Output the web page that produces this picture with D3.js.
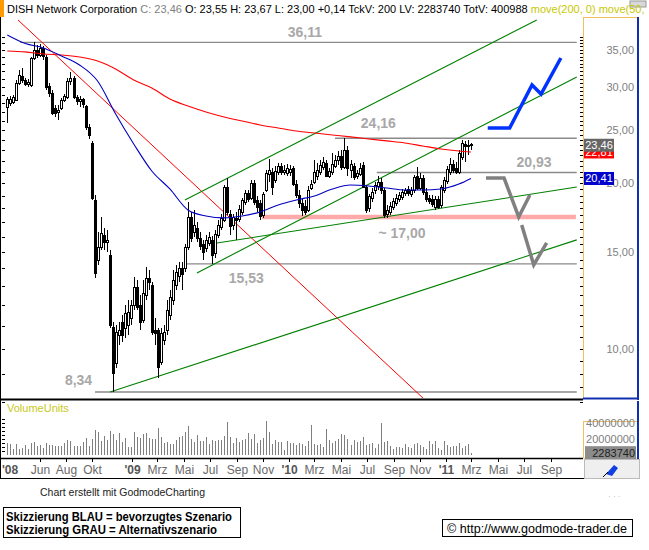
<!DOCTYPE html>
<html>
<head>
<meta charset="utf-8">
<script src="https://cdn.jsdelivr.net/npm/d3@7"></script>
<style>
body { margin: 0; background: #fff; }
svg { display: block; font-family: Arial, "Liberation Sans", sans-serif; }
</style>
</head>
<body>
<div id="chart"></div>
<script>
// weekly candles, first week starting 2008-03-17
const firstWeek = "2008-03-17"
// [open, high, low, close]
const ohlc = [
  [27.54,28.72,25.76,28.48],[28.01,28.84,27.65,28.48],[28.12,28.96,27.89,28.72],[28.36,30.84,28.24,30.45],
  [30.45,32.16,30.20,31.50],[31.37,32.43,30.45,30.84],[30.84,31.10,30.07,30.33],[30.33,30.97,29.95,30.58],
  [30.20,33.96,29.95,33.82],[33.82,36.11,33.54,34.98],[34.98,35.71,33.82,34.25],[34.25,35.86,33.96,35.27],
  [35.27,35.56,33.54,34.11],[33.96,34.25,29.58,29.95],[30.07,30.45,28.72,29.20],[29.20,29.58,26.63,26.86],
  [27.43,27.77,26.41,26.86],[26.97,27.77,26.08,27.20],[27.43,28.60,27.20,28.36],[28.36,29.08,28.12,28.84],
  [28.72,31.10,28.48,30.71],[30.71,31.89,30.20,31.10],[31.10,31.37,28.48,28.72],[28.72,28.96,27.77,28.24],
  [28.24,28.84,27.54,28.48],[28.48,28.60,27.43,27.89],[27.65,27.77,25.01,25.33],[25.33,25.65,24.09,24.49],
  [23.69,23.89,18.65,18.81],[18.65,19.05,13.45,13.74],[14.51,16.31,14.21,15.32],[15.32,17.37,15.13,16.24],
  [16.11,16.59,15.13,15.65],[15.65,16.45,15.00,15.78],[14.81,15.13,10.91,11.05],[10.96,11.19,8.34,9.04],
  [9.42,11.05,9.23,10.73],[10.59,11.19,10.16,10.82],[11.19,11.52,10.29,10.59],[10.91,12.01,10.46,11.62],
  [11.05,12.27,10.59,11.67],[11.38,12.27,11.05,12.01],[12.01,13.51,11.76,12.95],[12.95,13.34,11.76,11.91],
  [12.01,12.53,10.82,11.19],[11.28,13.34,11.14,12.63],[12.53,14.09,12.27,13.45],[13.45,13.91,12.79,13.23],
  [13.06,13.23,10.59,10.73],[10.82,11.38,10.16,10.68],[10.82,10.91,8.84,9.27],[9.46,10.91,9.34,10.68],
  [10.37,11.05,10.16,10.73],[10.82,12.27,10.59,11.76],[11.52,12.79,11.28,12.43],[12.27,13.91,12.01,13.34],
  [13.06,14.21,12.79,13.79],[13.56,14.39,13.23,14.03],[14.03,14.39,12.79,13.68],[14.03,15.52,13.79,15.32],
  [15.32,18.50,15.13,17.37],[17.37,17.74,15.65,15.91],[16.31,17.89,15.98,16.80],[16.59,17.01,15.65,15.91],
  [15.91,16.31,15.13,15.39],[15.52,15.78,14.51,15.00],[15.26,16.11,15.00,15.78],[15.58,16.31,15.39,15.98],
  [15.78,16.04,14.27,14.81],[14.94,16.45,14.63,16.18],[16.11,17.15,15.91,16.80],[16.66,17.59,16.45,17.30],
  [17.15,19.86,17.01,19.69],[19.69,20.45,17.51,17.74],[17.59,17.89,16.11,16.73],[16.80,17.59,16.45,17.37],
  [17.30,17.74,15.78,17.15],[17.22,18.27,17.01,17.96],[17.74,18.81,17.51,18.65],[18.50,19.45,18.27,19.21],
  [19.21,19.45,18.50,18.73],[18.81,20.28,18.65,20.03],[20.03,20.28,18.27,18.50],[18.65,18.97,17.74,18.12],
  [18.42,18.65,17.15,17.44],[17.51,19.29,17.30,19.13],[19.45,21.15,19.29,20.89],[20.80,22.15,20.11,21.15],
  [20.98,21.33,19.05,19.69],[20.28,21.51,20.03,21.06],[20.98,21.78,20.71,21.51],[21.51,21.78,20.71,20.98],
  [20.98,21.60,20.71,21.15],[20.89,21.69,20.62,21.33],[20.98,21.60,20.62,21.24],[21.33,21.51,19.78,19.94],
  [19.94,20.28,18.81,19.05],[19.05,19.45,18.04,18.42],[18.42,18.81,17.44,17.89],[18.19,18.65,17.51,17.74],
  [17.89,19.78,17.74,19.45],[19.61,20.28,19.45,19.94],[20.11,22.06,19.94,20.98],[20.62,21.78,20.28,21.15],
  [20.98,22.06,20.71,21.60],[21.42,22.33,21.15,21.87],[21.78,22.06,20.54,20.62],[20.62,21.33,20.45,21.06],
  [20.98,22.71,20.71,21.69],[21.51,22.52,21.33,22.06],[22.06,22.90,21.60,22.43],[22.43,23.00,21.15,21.42],
  [21.42,24.16,21.24,23.00],[23.00,23.39,20.62,21.33],[21.15,22.06,20.45,21.69],[21.51,21.78,20.28,20.54],
  [20.62,21.15,20.37,20.89],[20.80,21.78,20.62,21.33],[21.60,21.87,19.61,19.69],[19.69,19.86,17.66,17.89],
  [18.04,19.13,17.74,18.97],[18.81,19.61,18.50,19.29],[19.45,20.11,19.13,19.86],[19.78,20.62,19.45,20.11],
  [20.11,20.45,19.13,19.45],[19.45,19.61,17.30,17.51],[17.59,18.27,17.30,17.89],[17.74,18.50,17.51,18.19],
  [18.12,18.81,17.89,18.57],[18.42,19.13,18.19,18.81],[18.73,19.29,18.50,19.05],[18.89,19.53,18.65,19.29],
  [19.21,19.61,18.97,19.45],[19.53,19.78,18.97,19.21],[19.13,19.69,18.89,19.45],[19.45,20.71,19.21,20.54],
  [20.62,21.42,19.45,19.61],[19.61,20.89,19.45,20.45],[20.45,20.71,19.05,19.29],[19.29,19.61,18.50,18.73],
  [18.81,19.05,18.34,18.57],[18.73,19.05,18.12,18.34],[18.12,18.97,17.89,18.73],[18.73,18.97,17.96,18.12],
  [18.27,19.86,18.04,19.69],[19.45,20.54,19.21,20.28],[20.20,21.51,19.94,21.24],[20.98,22.24,20.71,21.69],
  [21.69,22.06,20.89,21.15],[21.33,21.87,20.80,20.98],[20.98,23.00,20.80,22.71],[22.33,23.99,22.06,23.69],
  [23.59,23.89,21.87,23.39],[23.39,23.99,22.52,23.49],[23.55,23.67,23.00,23.46]
]
// weekly volume, millions of shares
const volumes = [
  15.4,13.3,7.5,13.75,7.9,9.2,12.5,7.5,15.4,16.7,11.25,12.5,9.2,15.4,12.5,12.5,11.25,11.25,11.25,15.4,
  18.75,17.5,11.7,11.25,11.25,16.7,21.7,11.7,20,31.25,29.2,17.9,23.75,18.75,30.4,25.8,18.75,27.9,16.7,21.7,
  10.4,10.4,29.2,22.9,21.7,25.8,27.1,21.7,20,20,34.2,22.9,15.4,16.7,13.75,13.3,18.75,22.9,23.75,29.2,
  36.7,19.6,16.7,25,17.9,17.9,22.9,13.75,18.75,17.9,18.75,18.75,24.2,41.7,22.9,15.4,20.8,16.7,
  18.75,19.6,27.1,20,26.25,15.4,18.75,20.8,42.5,28.75,13.75,18.75,15.8,15.8,6.25,17.5,15.4,15.4,12.5,
  15.4,13.75,11.25,17.5,37.5,13.75,12.5,13.75,9.6,32.5,18.75,15.4,17.9,20,26.25,25,20,12.5,18.75,15.8,
  17.9,22.9,12.5,13.75,15.4,9.2,13.75,40.4,15.8,17.9,11.25,7.5,10.4,10.4,9.2,13.75,10.4,9.2,13.75,15.4,
  12.5,10.4,7.5,17.5,13.3,17.5,9.2,6.25,17.5,12.5,10.4,11.25,11.25,15.4,9.2,11.7,13.75,2.28374
]
// moving averages read at these week numbers
const maWeeks = [0,6,12,18,24,30,36,42,48,54,60,66,72,78,84,90,96,102,108,114,120,126,132,138,144,150,154]
const ma200 = [34.83,34.69,34.40,34.25,33.96,33.40,32.30,30.84,29.83,28.48,27.65,26.97,26.41,25.97,25.54,25.22,
  24.90,24.69,24.49,24.30,24.09,23.89,23.69,23.39,23.10,22.90,22.81]
const ma50 = [37.24,35.93,35.27,34.11,32.85,30.71,26.74,23.59,21.06,19.53,17.89,17.44,17.30,17.44,17.74,18.27,
  18.65,18.97,19.53,19.86,19.78,19.61,19.45,19.45,19.53,19.94,20.41]

// drawn trend lines [date, price] -> [date, price]
const redTrend = [["2008-04-11", 39.66], ["2010-11-13", 8.07]]
const greenTrends = [
  [["2009-05-04", 18.65], ["2011-07-31", 39.66]],
  [["2009-06-01", 13.74], ["2011-11-01", 31.24]],
  [["2009-07-06", 15.52], ["2011-11-01", 19.69]],
  [["2008-11-11", 8.34], ["2011-11-01", 15.78]]
]
// horizontal levels
const levelValues = [36.11, 24.16, 20.93, 14.27, 8.34]
const levelLabels = ["36,11", "24,16", "20,93", "15,53", "8,34"]
const levelStarts = ["2008-04-16", "2010-04-18", "2010-07-24", "2009-05-04", "2008-10-07"]
const levelEnd = "2011-11-01"
const supportZone = {value: 17.37, label: "~ 17,00", from: "2009-10-30", to: "2011-10-30"}
// scenario sketches
const blueScenario = [["2011-04-08", 25.22], ["2011-05-29", 25.22], ["2011-07-20", 30.20], ["2011-08-10", 29.08], ["2011-09-25", 33.82]]
const grayScenario = [
  [["2011-04-04", 20.45], ["2011-05-16", 20.45], ["2011-06-19", 17.37], ["2011-07-15", 19.05]],
  [["2011-06-26", 16.80], ["2011-07-24", 14.21], ["2011-08-23", 15.58]]
]
const priceTicks = [10, 15, 20, 25, 30, 35]
const volTicks = [20, 40]
const timeTicks = ["2008-03-24","2008-06-01","2008-08-01","2008-10-01","2009-01-01","2009-03-01","2009-05-01",
  "2009-07-01","2009-09-01","2009-11-01","2010-01-01","2010-03-01","2010-05-01","2010-07-01","2010-09-01",
  "2010-11-01","2011-01-01","2011-03-01","2011-05-01","2011-07-01","2011-09-01"]
const timeLabels = ["'08","Jun","Aug","Okt","'09","Mrz","Mai","Jul","Sep","Nov","'10","Mrz","Mai","Jul","Sep",
  "Nov","'11","Mrz","Mai","Jul","Sep"]

const W = 649, H = 550
const plot = {left: 2, right: 583, top: 18, bottom: 398}
const de = d3.formatLocale({decimal: ",", thousands: ".", grouping: [3], currency: ["", ""]})
const fmt = de.format(".2f")
const parse = d3.utcParse("%Y-%m-%d")
const week0 = parse(firstWeek)
const weekDate = i => d3.utcDay.offset(week0, 7 * i)

const x = d3.scaleUtc().domain([parse("2009-01-01"), parse("2011-01-01")]).range([132, 446])
const y = d3.scaleLog().domain([10, 35]).range([348.7, 49.8])
const yv = d3.scaleLinear().domain([0, 40]).range([455, 423])

const svg = d3.select("#chart").append("svg").attr("width", W).attr("height", H)

svg.append("defs").append("clipPath").attr("id", "clip")
  .append("rect").attr("x", plot.left).attr("y", plot.top)
  .attr("width", plot.right - plot.left).attr("height", plot.bottom - plot.top)

const g = svg.append("g").attr("clip-path", "url(#clip)")
const pt = d => [x(parse(d[0])), y(d[1])]

// level lines
levelValues.forEach((v, i) => {
  g.append("line")
    .attr("x1", x(parse(levelStarts[i]))).attr("x2", x(parse(levelEnd)))
    .attr("y1", y(v)).attr("y2", y(v))
    .attr("stroke", "#8a8a8a").attr("stroke-width", 1.3)
})
g.append("line")
  .attr("x1", x(parse(supportZone.from))).attr("x2", x(parse(supportZone.to)))
  .attr("y1", y(supportZone.value)).attr("y2", y(supportZone.value))
  .attr("stroke", "#ffaaaa").attr("stroke-width", 4.5)

// trend lines
g.append("line")
  .attr("x1", pt(redTrend[0])[0]).attr("y1", pt(redTrend[0])[1])
  .attr("x2", pt(redTrend[1])[0]).attr("y2", pt(redTrend[1])[1])
  .attr("stroke", "#ff0000").attr("stroke-width", 1)
greenTrends.forEach(t => {
  g.append("line")
    .attr("x1", pt(t[0])[0]).attr("y1", pt(t[0])[1])
    .attr("x2", pt(t[1])[0]).attr("y2", pt(t[1])[1])
    .attr("stroke", "#008000").attr("stroke-width", 1.1)
})

// candles
const candles = ohlc.map((d, i) => ({date: weekDate(i), o: d[0], h: d[1], l: d[2], c: d[3]}))
const cx = d => Math.round(x(d.date)) + 0.5
const cg = g.append("g").attr("shape-rendering", "crispEdges")
cg.selectAll("line").data(candles).join("line")
  .attr("x1", cx).attr("x2", cx)
  .attr("y1", d => y(d.h)).attr("y2", d => y(d.l))
  .attr("stroke", "#000")
cg.selectAll("rect").data(candles).join("rect")
  .attr("x", d => cx(d) - 1).attr("width", 2)
  .attr("y", d => Math.round(y(Math.max(d.o, d.c))))
  .attr("height", d => Math.max(1, Math.round(Math.abs(y(d.o) - y(d.c)))))
  .attr("fill", d => d.c >= d.o ? "#fff" : "#000")
  .attr("stroke", "#000")

// moving averages
const maLine = d3.line().x(d => x(weekDate(d[0]))).y(d => y(d[1])).curve(d3.curveMonotoneX)
g.append("path").attr("d", maLine(maWeeks.map((w, i) => [w, ma200[i]])))
  .attr("fill", "none").attr("stroke", "#ff0000").attr("stroke-width", 1.1)
g.append("path").attr("d", maLine(maWeeks.map((w, i) => [w, ma50[i]])))
  .attr("fill", "none").attr("stroke", "#0000c0").attr("stroke-width", 1.1)

// scenarios
const sLine = d3.line().x(d => pt(d)[0]).y(d => pt(d)[1])
g.append("path").attr("d", sLine(blueScenario))
  .attr("fill", "none").attr("stroke", "#0033ff").attr("stroke-width", 3.5)
grayScenario.forEach(s => {
  g.append("path").attr("d", sLine(s))
    .attr("fill", "none").attr("stroke", "#808080").attr("stroke-width", 3.5)
})

// level labels
const labelAt = ["2009-12-29", "2010-06-17", "2011-06-14", "2009-08-14", "2008-07-29"]
const labelDy = [-5, -10.5, -5.5, 19.5, -7.5]
levelLabels.forEach((t, i) => {
  g.append("text").attr("x", x(parse(labelAt[i]))).attr("y", y(levelValues[i]) + labelDy[i])
    .attr("font-size", 14).attr("font-weight", "bold").attr("fill", "#a8a8a8").text(t)
})
g.append("text").attr("x", x(parse("2010-07-28"))).attr("y", y(supportZone.value) + 21.5)
  .attr("font-size", 14).attr("font-weight", "bold").attr("fill", "#a8a8a8").text(supportZone.label)

// minor price ticks
const leftTicks = d3.range(8, 38, 1)
const rightTicks = d3.range(8, 37.5, 0.5)
svg.append("g").selectAll("line").data(leftTicks).join("line")
  .attr("x1", 2).attr("x2", 5).attr("y1", d => Math.round(y(d)) + 0.5).attr("y2", d => Math.round(y(d)) + 0.5)
  .attr("stroke", "#000")
svg.append("g").selectAll("line").data(rightTicks).join("line")
  .attr("x1", 580).attr("x2", 583).attr("y1", d => Math.round(y(d)) + 0.5).attr("y2", d => Math.round(y(d)) + 0.5)
  .attr("stroke", "#000")

// frame of the price panel
svg.append("line").attr("x1", 583.5).attr("x2", 583.5).attr("y1", 17).attr("y2", 398).attr("stroke", "#f0c060")
svg.append("line").attr("x1", 583).attr("x2", 638).attr("y1", 17.5).attr("y2", 17.5).attr("stroke", "#f0c060")
svg.append("line").attr("x1", 638).attr("x2", 638).attr("y1", 17).attr("y2", 400).attr("stroke", "#1030b0").attr("stroke-width", 2)
svg.append("line").attr("x1", 583).attr("x2", 639).attr("y1", 398.5).attr("y2", 398.5).attr("stroke", "#1030b0").attr("stroke-width", 2)
svg.append("line").attr("x1", 0).attr("x2", 583).attr("y1", 399.5).attr("y2", 399.5).attr("stroke", "#000").attr("stroke-width", 2)
svg.append("line").attr("x1", 0.5).attr("x2", 0.5).attr("y1", 17).attr("y2", 478).attr("stroke", "#000")

// price axis labels
svg.append("g").selectAll("text").data(priceTicks).join("text")
  .attr("x", 634).attr("y", d => y(d) + 4).attr("text-anchor", "end")
  .attr("font-size", 11).attr("fill", "#808080").text(d => fmt(d))

// value boxes on the axis
const last = candles[candles.length - 1]
const tag = (v, bg, fg) => {
  const yy = y(v)
  svg.append("rect").attr("x", 584).attr("y", yy - 6.5).attr("width", 30).attr("height", 13).attr("fill", bg)
  svg.append("text").attr("x", 599).attr("y", yy + 4).attr("text-anchor", "middle")
    .attr("font-size", 11).attr("fill", fg).text(fmt(v))
}
tag(ma200[ma200.length - 1], "#ff0000", "#fff")
tag(last.c, "#666666", "#fff")
tag(ma50[ma50.length - 1], "#0000cc", "#fff")

// volume panel
const vg = svg.append("g").attr("shape-rendering", "crispEdges")
vg.selectAll("rect").data(volumes).join("rect")
  .attr("x", (d, i) => Math.round(x(weekDate(i))) - 0.5).attr("width", 1.5)
  .attr("y", d => yv(d)).attr("height", d => yv(0) - yv(d))
  .attr("fill", "#7f7f7f")
svg.append("text").attr("x", 7).attr("y", 412).attr("font-size", 11).attr("fill", "#c8c820").text("VolumeUnits")
svg.append("g").selectAll("line").data([5, 10, 15, 20, 25, 30, 35, 40, 45]).join("line")
  .attr("x1", 2).attr("x2", 5).attr("y1", d => Math.round(yv(d)) + 0.5).attr("y2", d => Math.round(yv(d)) + 0.5)
  .attr("stroke", "#000")
svg.append("rect").attr("x", 583.5).attr("y", 421.5).attr("width", 54).attr("height", 36.5)
  .attr("fill", "none").attr("stroke", "#f0c060")
svg.append("line").attr("x1", 638).attr("x2", 638).attr("y1", 401).attr("y2", 459).attr("stroke", "#1030b0").attr("stroke-width", 2)
svg.append("g").selectAll("text").data(volTicks).join("text")
  .attr("x", 635).attr("y", d => yv(d) + 4).attr("text-anchor", "end")
  .attr("font-size", 11).attr("fill", "#808080").text(d => d3.format("d")(d * 1e6))
const lastVol = Math.round(volumes[volumes.length - 1] * 1e6)
svg.append("rect").attr("x", 585).attr("y", yv(volumes[volumes.length - 1]) - 7).attr("width", 51).attr("height", 13).attr("fill", "#8c8c8c")
svg.append("text").attr("x", 635).attr("y", yv(volumes[volumes.length - 1]) + 3.5).attr("text-anchor", "end")
  .attr("font-size", 11).attr("fill", "#222").text(lastVol)
svg.append("line").attr("x1", 0).attr("x2", 583).attr("y1", 458.5).attr("y2", 458.5).attr("stroke", "#000").attr("stroke-width", 1.5)

// time axis
const tg = svg.append("g")
timeTicks.forEach((t, i) => {
  const xx = Math.round(x(parse(t))) + 0.5
  const isYear = timeLabels[i].startsWith("'")
  if (i > 0) tg.append("line").attr("x1", xx).attr("x2", xx).attr("y1", 459).attr("y2", 462).attr("stroke", "#000")
  tg.append("text").attr("x", i === 0 ? 10 : xx).attr("y", 474).attr("text-anchor", "middle")
    .attr("font-size", 12).attr("font-weight", isYear ? "bold" : "normal")
    .attr("fill", isYear ? "#555" : "#6a6a6a").text(timeLabels[i])
})
svg.append("line").attr("x1", 0).attr("x2", 640).attr("y1", 478.5).attr("y2", 478.5).attr("stroke", "#000")
svg.append("rect").attr("x", 584.5).attr("y", 459.5).attr("width", 55).attr("height", 19).attr("fill", "#efefef").attr("stroke", "#bbb")
svg.append("path").attr("d", "M606,474 L614,465 L618,468 L612,476 Z").attr("fill", "#1040e0")
svg.append("line").attr("x1", 603).attr("x2", 608).attr("y1", 477).attr("y2", 472).attr("stroke", "#000")

// title bar
svg.append("rect").attr("x", 0).attr("y", 0).attr("width", 4).attr("height", 17).attr("fill", "#ff9900")
svg.append("rect").attr("x", 630).attr("y", 1).attr("width", 16).attr("height", 6).attr("fill", "#d8d8d8").attr("stroke", "#999")
const title = svg.append("text").attr("x", 7).attr("y", 13).attr("font-size", 11)
title.append("tspan").attr("fill", "#000").text("DISH Network Corporation ")
title.append("tspan").attr("fill", "#808080").text(`C: ${fmt(last.c)} `)
title.append("tspan").attr("fill", "#000")
  .text(`O: ${fmt(last.o)} H: ${fmt(last.h)} L: ${fmt(last.l)} +${fmt(0.14)} TckV: 200 LV: ${lastVol} TotV: 400988 `)
title.append("tspan").attr("fill", "#c8c800").text("move(200, 0) move(50,")

// footer
svg.append("text").attr("x", 40).attr("y", 496).attr("font-size", 11).attr("fill", "#222")
  .attr("textLength", 165).attr("lengthAdjust", "spacingAndGlyphs").text("Chart erstellt mit GodmodeCharting")
svg.append("rect").attr("x", 3.5).attr("y", 507.5).attr("width", 237).attr("height", 30).attr("fill", "none").attr("stroke", "#000")
svg.append("text").attr("x", 6).attr("y", 521).attr("font-size", 12).attr("font-weight", "bold")
  .attr("textLength", 226).attr("lengthAdjust", "spacingAndGlyphs").text("Skizzierung BLAU = bevorzugtes Szenario")
svg.append("text").attr("x", 6).attr("y", 534).attr("font-size", 12).attr("font-weight", "bold")
  .attr("textLength", 211).attr("lengthAdjust", "spacingAndGlyphs").text("Skizzierung GRAU = Alternativszenario")
svg.append("rect").attr("x", 442.5).attr("y", 519.5).attr("width", 190).attr("height", 17).attr("fill", "none").attr("stroke", "#000")
svg.append("text").attr("x", 447).attr("y", 532.5).attr("font-size", 12)
  .attr("textLength", 180).attr("lengthAdjust", "spacingAndGlyphs").text("© http://www.godmode-trader.de")
svg.append("text").attr("x", 608).attr("y", 499).attr("font-size", 8).attr("fill", "#b0b0d0").text("· · ·")
</script>
</body>
</html>
